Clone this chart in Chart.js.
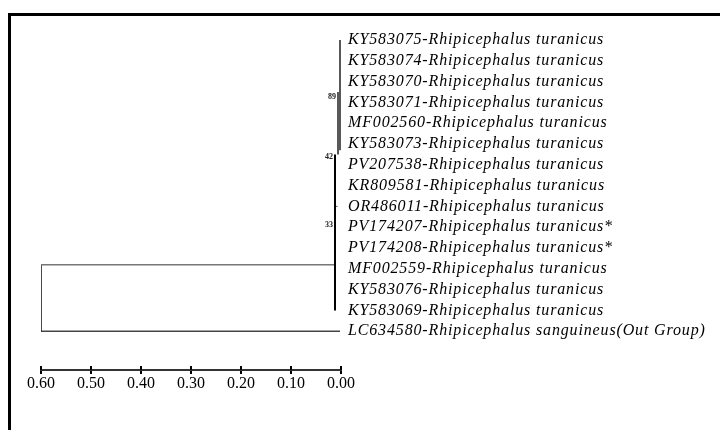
<!DOCTYPE html>
<html>
<head>
<meta charset="utf-8">
<script src="https://cdn.jsdelivr.net/npm/chart.js@4/dist/chart.umd.min.js"></script>
<style>
  html, body { margin: 0; padding: 0; background: #fff; }
  #wrap { position: relative; width: 720px; height: 430px; overflow: hidden; }
  #frame { position: absolute; left: 8px; top: 13px; width: 800px; height: 500px;
           border-top: 3px solid #000; border-left: 3px solid #000; }
  canvas { position: absolute; left: 0; top: 0; }
</style>
</head>
<body>
<div id="wrap">
  <div id="frame"></div>
  <canvas id="tree" width="720" height="430"></canvas>
</div>
<script>
// taxa, top to bottom
var taxa = [
  'KY583075-Rhipicephalus turanicus',
  'KY583074-Rhipicephalus turanicus',
  'KY583070-Rhipicephalus turanicus',
  'KY583071-Rhipicephalus turanicus',
  'MF002560-Rhipicephalus turanicus',
  'KY583073-Rhipicephalus turanicus',
  'PV207538-Rhipicephalus turanicus',
  'KR809581-Rhipicephalus turanicus',
  'OR486011-Rhipicephalus turanicus',
  'PV174207-Rhipicephalus turanicus*',
  'PV174208-Rhipicephalus turanicus*',
  'MF002559-Rhipicephalus turanicus',
  'KY583076-Rhipicephalus turanicus',
  'KY583069-Rhipicephalus turanicus',
  'LC634580-Rhipicephalus sanguineus(Out Group)'
];

// internal nodes (distance from tips, row span)
var nodeDepth = [0.002, 0.006, 0.012];
var nodeTop   = [0, 2.5, 5.5];
var nodeBottom= [5.3, 5.5, 13];

// bootstrap values and the rows they sit on
var bootValues = ['89', '42', '33'];
var bootRows   = [2.75, 5.6, 8.9];
var bootDepth  = [0.006, 0.012, 0.012];

// root
var rootDepth = 0.60;
var ingroupRow = 10.8;
var outgroupRow = 14;

// scale bar ticks
var scaleTicks = [0, 0.1, 0.2, 0.3, 0.4, 0.5, 0.6];

var seg = function (pts, color, w) {
  return { data: pts, showLine: true, pointRadius: 0, borderColor: color,
           borderWidth: w, fill: false, tension: 0 };
};

var datasets = [];
for (var i = 0; i < nodeDepth.length; i++) {
  datasets.push(seg([{x: nodeDepth[i], y: nodeTop[i]}, {x: nodeDepth[i], y: nodeBottom[i]}],
                    '#000', i === 2 ? 2 : 1.3));
}
// small stub for OR486011
datasets.push(seg([{x: nodeDepth[2], y: 8}, {x: 0.007, y: 8}], '#555', 1));
// root branches
datasets.push(seg([{x: rootDepth, y: ingroupRow}, {x: nodeDepth[2], y: ingroupRow}], '#777', 1.5));
datasets.push(seg([{x: rootDepth, y: ingroupRow}, {x: rootDepth, y: outgroupRow}], '#111', 1.5));
datasets.push(seg([{x: rootDepth, y: outgroupRow}, {x: 0.002, y: outgroupRow}], '#444', 1.5));

var treeText = {
  id: 'treeText',
  afterDatasetsDraw: function (chart) {
    var ctx = chart.ctx, xs = chart.scales.x, ys = chart.scales.y;
    ctx.save();
    ctx.fillStyle = '#000';
    ctx.font = 'italic 16px "Liberation Serif"';
    ctx.letterSpacing = '0.85px';
    ctx.textBaseline = 'middle';
    ctx.textAlign = 'left';
    var x0 = xs.getPixelForValue(0) + 7;
    taxa.forEach(function (t, i) {
      ctx.fillText(t, x0, ys.getPixelForValue(i));
    });
    ctx.letterSpacing = '0px';
    ctx.font = 'bold 8px "Liberation Serif"';
    ctx.textAlign = 'right';
    ctx.fillStyle = '#222';
    bootValues.forEach(function (b, i) {
      ctx.fillText(b, xs.getPixelForValue(bootDepth[i]) - 2, ys.getPixelForValue(bootRows[i]));
    });
    // upper half of scale-bar ticks
    ctx.strokeStyle = '#000';
    ctx.lineWidth = 2;
    var yb = chart.chartArea.bottom;
    scaleTicks.forEach(function (v) {
      var px = xs.getPixelForValue(v);
      ctx.beginPath();
      ctx.moveTo(px, yb - 4);
      ctx.lineTo(px, yb);
      ctx.stroke();
    });
    ctx.restore();
  }
};

new Chart(document.getElementById('tree'), {
  type: 'scatter',
  data: { datasets: datasets },
  plugins: [treeText],
  options: {
    responsive: false,
    animation: false,
    events: [],
    layout: { padding: { left: 41, right: 379, top: 0, bottom: 0 } },
    plugins: { legend: { display: false }, tooltip: { enabled: false } },
    scales: {
      x: {
        type: 'linear',
        reverse: true,
        min: 0,
        max: 0.6,
        afterFit: function (s) { s.height = 60; },
        afterBuildTicks: function (s) { s.ticks = scaleTicks.map(function (v) { return {value: v}; }); },
        border: { display: true, color: '#333', width: 2 },
        grid: { drawOnChartArea: false, drawTicks: true, tickLength: 4, color: '#000', lineWidth: 2 },
        ticks: {
          color: '#000',
          padding: 0,
          font: { family: '"Liberation Serif"', size: 16 },
          callback: function (v) { return Number(v).toFixed(2); }
        }
      },
      y: {
        type: 'linear',
        display: false,
        reverse: true,
        min: -1.923,
        max: 15.865
      }
    }
  }
});
</script>
</body>
</html>
